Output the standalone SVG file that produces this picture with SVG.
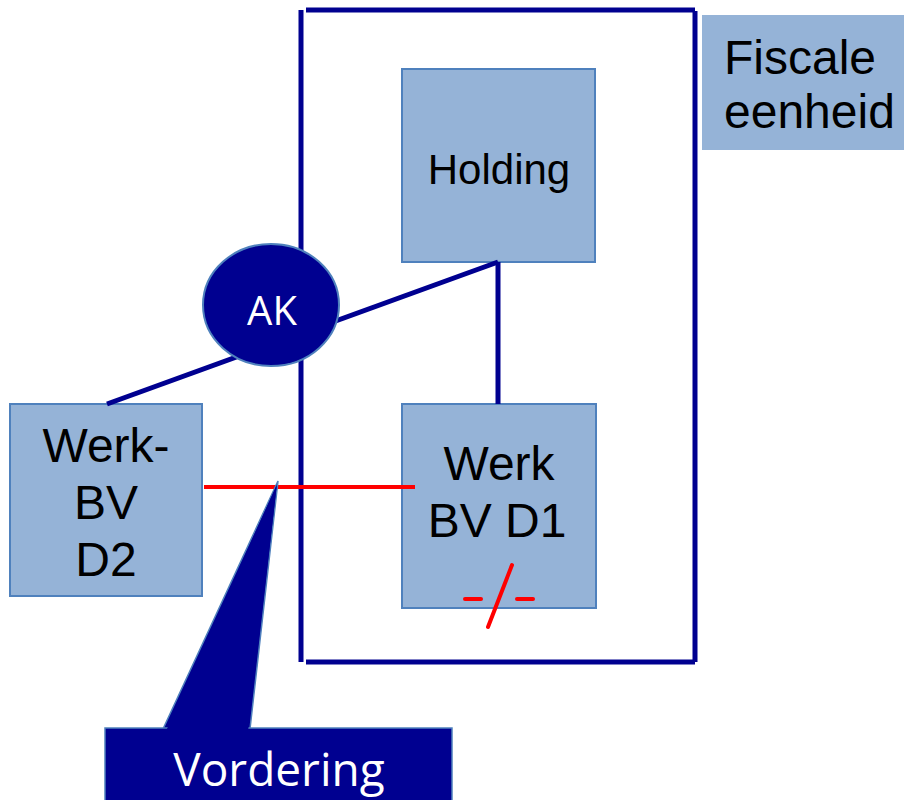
<svg xmlns="http://www.w3.org/2000/svg" width="904" height="800" viewBox="0 0 904 800">
<defs>
<style>
.box{fill:#95B3D7;stroke:#4F81BD;stroke-width:2}
.t{font-family:"Liberation Sans",Arial,sans-serif;fill:#000;text-anchor:middle}
.w{font-family:"Open Sans","Liberation Sans",sans-serif;fill:#fff;text-anchor:middle}
.navy{stroke:#000090;stroke-width:5;fill:none}
.red{stroke:#FF0000;stroke-width:4;fill:none}
</style>
</defs>
<rect width="904" height="800" fill="#fff"/>
<g id="frame" class="navy">
<line x1="301" y1="10" x2="301" y2="662"/>
<line x1="306" y1="10" x2="695" y2="10"/>
<line x1="695" y1="11" x2="695" y2="662"/>
<line x1="306" y1="662" x2="695" y2="662"/>
</g>
<g id="fiscale">
<rect x="702" y="15" width="202" height="135" fill="#95B3D7"/>
<text class="t" x="724" y="74" font-size="48" text-anchor="start" style="text-anchor:start">Fiscale</text>
<text class="t" x="724" y="128" font-size="48" style="text-anchor:start">eenheid</text>
</g>
<g id="holding">
<rect class="box" x="402" y="69" width="193" height="193"/>
<text class="t" x="499" y="184" font-size="42">Holding</text>
</g>
<g id="werkd1">
<rect class="box" x="402" y="404" width="194" height="204"/>
<text class="t" x="499" y="480" font-size="48">Werk</text>
<text class="t" x="497" y="537" font-size="48">BV D1</text>
</g>
<g id="werkd2">
<rect class="box" x="10" y="404" width="192" height="192"/>
<text class="t" x="106" y="462" font-size="48">Werk-</text>
<text class="t" x="106" y="519" font-size="48">BV</text>
<text class="t" x="106" y="576" font-size="48">D2</text>
</g>
<g id="connectors">
<line class="navy" x1="498" y1="262" x2="107" y2="404"/>
<line class="navy" x1="498" y1="262" x2="498" y2="404"/>
<line class="red" x1="204" y1="487" x2="415" y2="487"/>
</g>
<g id="ak">
<ellipse cx="271" cy="305" rx="68" ry="61" fill="#000090" stroke="#4F81BD" stroke-width="2"/>
<text class="w" x="272" y="325" font-size="40">AK</text>
</g>
<g id="mark" class="red" stroke-width="5" stroke-linecap="round">
<line x1="465" y1="599" x2="481" y2="599"/>
<line x1="517" y1="599" x2="533" y2="599"/>
<line x1="512" y1="565" x2="488" y2="627"/>
</g>
<g id="vordering">
<polygon points="278,481 250,729 163,729" fill="#000090" stroke="#4F81BD" stroke-width="1.5"/>
<rect x="105" y="728" width="347" height="80" fill="#000090" stroke="#4F81BD" stroke-width="1.5"/>
<polygon points="277,484 248,731 166,731" fill="#000090"/>
<text class="w" x="279" y="786" font-size="46">Vordering</text>
</g>
</svg>
